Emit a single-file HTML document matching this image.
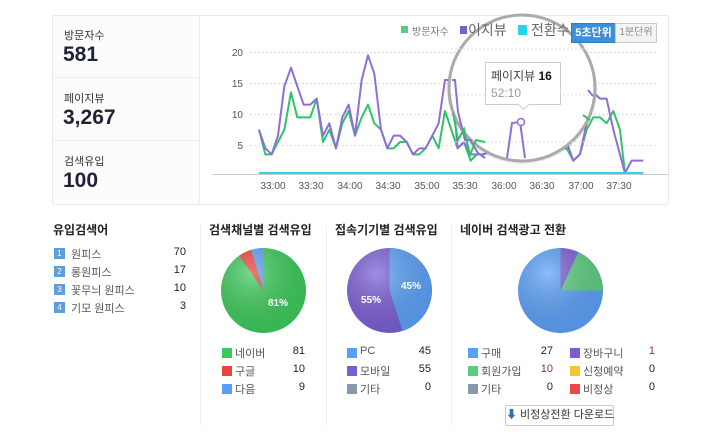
<!DOCTYPE html>
<html><head><meta charset="utf-8"><style>
body{margin:0;width:720px;height:440px;background:#fff;font-family:"Liberation Sans","Noto Sans CJK KR",sans-serif;position:relative;overflow:hidden}
.a{position:absolute;white-space:nowrap}
.lbl{font-size:11px;color:#333}
.num{font-size:21px;font-weight:bold;color:#1e2338}
.t{font-size:12px;font-weight:bold;color:#222}
.li{font-size:11px;color:#555}
.v{font-size:11px;color:#222;text-align:right;width:30px}
.sq{position:absolute;width:10px;height:10px}
</style></head><body>
<div class="a" style="left:52px;top:15px;width:615px;height:188px;border:1px solid #e8e8e8;border-radius:3px;background:#fff"></div>
<div class="a" style="left:53px;top:16px;width:146px;height:187px;background:#fcfcfc;border-right:1px solid #ececec"></div>
<div class="a" style="left:53px;top:77px;width:146px;height:1px;background:#eee"></div>
<div class="a" style="left:53px;top:140px;width:146px;height:1px;background:#eee"></div>
<div class="a lbl" style="left:64px;top:27px">방문자수</div>
<div class="a num" style="left:63px;top:43px">581</div>
<div class="a lbl" style="left:64px;top:90px">페이지뷰</div>
<div class="a num" style="left:63px;top:106px">3,267</div>
<div class="a lbl" style="left:64px;top:153px">검색유입</div>
<div class="a num" style="left:63px;top:169px">100</div>

<svg class="a" style="left:0;top:0" width="720" height="440">
<defs><radialGradient id="sh" cx="0.35" cy="0.3" r="0.75"><stop offset="0" stop-color="#fff" stop-opacity="0.3"/><stop offset="1" stop-color="#000" stop-opacity="0.08"/></radialGradient></defs>
<g stroke="#ddd" stroke-dasharray="2,2" stroke-width="1">
<line x1="250" y1="52.5" x2="657" y2="52.5"/><line x1="250" y1="83.5" x2="657" y2="83.5"/><line x1="250" y1="114.5" x2="657" y2="114.5"/><line x1="250" y1="145.5" x2="657" y2="145.5"/>
</g>
<line x1="212" y1="174.5" x2="668" y2="174.5" stroke="#ccc"/>
<g font-size="10" fill="#555" text-anchor="end" font-family="Liberation Sans,sans-serif">
<text x="243" y="56">20</text><text x="243" y="87">15</text><text x="243" y="118">10</text><text x="243" y="149">5</text>
</g>
<g font-size="10" fill="#555" text-anchor="middle" font-family="Liberation Sans,sans-serif">
<text x="273" y="189">33:00</text><text x="311" y="189">33:30</text><text x="350" y="189">34:00</text><text x="388" y="189">34:30</text><text x="427" y="189">35:00</text><text x="465" y="189">35:30</text><text x="504" y="189">36:00</text><text x="542" y="189">36:30</text><text x="581" y="189">37:00</text><text x="619" y="189">37:30</text>
</g>
<g transform="translate(200,15) scale(0.3333)" fill="none" stroke-width="6" stroke-linejoin="round">
<polyline stroke="#2fc46a" points="177,344 196,418 215,418 234,381 253,344 273,232 292,307 311,307 331,307 350,251 369,381 388,344 408,400 427,325 446,288 465,362 485,307 504,269 523,325 543,344 562,400 581,400 600,381 620,381 639,418 658,418 677,400 697,362 716,400 735,288 754,344 773,400 792,381 812,437 831,418 850,418 900,400 1000,400 1100,400 1120,437 1140,418 1160,344 1180,307 1200,307 1220,325 1240,288 1260,344 1275,474"/>
<polyline stroke="#8f6ed8" points="177,344 196,400 215,418 234,362 253,214 273,158 292,214 311,269 331,269 350,251 369,362 388,325 408,400 427,307 446,269 465,362 485,195 504,121 523,176 543,344 562,400 581,362 600,362 620,381 639,418 658,400 677,400 697,362 716,325 735,195 754,195 773,400 792,381 812,418 831,418 850,418 900,400 1000,400 1100,381 1120,437 1140,418 1160,325 1180,232 1200,251 1220,251 1240,344 1275,474 1295,437 1330,437"/>
<polyline stroke="#2dd3ea" points="177,474 1330,474"/>
</g>
<circle cx="522" cy="89" r="75" fill="#000" opacity="0.08"/>
<circle cx="522" cy="88" r="73" fill="#fff" stroke="#aaa" stroke-width="3"/>
<g stroke="#ddd" stroke-dasharray="2,2"><line x1="451" y1="49" x2="593" y2="49"/><line x1="451" y1="95" x2="593" y2="95"/><line x1="451" y1="142" x2="593" y2="142"/></g>
<g fill="none" stroke-width="2">
<polyline stroke="#8f6ed8" points="452,80 455,80 458,112 465,140 470,140 478,153 485,158"/>
<polyline stroke="#2fc46a" points="453,113 458,140 464,129 470,155 476,140 485,142"/>
<polyline stroke="#8f6ed8" points="507,158 512,123 520,122 525,158"/>
<polyline stroke="#8f6ed8" points="588,90 593,96"/>
<polyline stroke="#2fc46a" points="583,115 590,120"/>
</g>
<circle cx="521" cy="122" r="3.5" fill="#fff" stroke="#8f6ed8" stroke-width="1.5"/>
<path d="M485.5,62.5 h75 v42 h-32 l-5,5 l-5,-5 h-33z" fill="#fff" stroke="#ccc"/>
<text x="491" y="80" font-size="12" fill="#444" font-family="Liberation Sans,Noto Sans CJK KR,sans-serif">페이지뷰 <tspan font-weight="bold" fill="#111">16</tspan></text>
<text x="491" y="97" font-size="12" fill="#999" font-family="Liberation Sans,sans-serif">52:10</text>
<!-- pies -->
<circle cx="263.5" cy="290.5" r="42.5" fill="#3cc85a"/>
<path d="M263.5,290.5 L263.5,248 A42.5,42.5 0 0 0 251.1,249.9Z" fill="#5b9ff5"/>
<path d="M263.5,290.5 L251.1,249.9 A42.5,42.5 0 0 0 239.1,255.7Z" fill="#e8453c"/>
<circle cx="263.5" cy="290.5" r="42.5" fill="url(#sh)"/>
<circle cx="389.5" cy="290.5" r="42.5" fill="#7a5ed3"/>
<path d="M389.5,290.5 L389.5,248 A42.5,42.5 0 0 1 402.6,330.9Z" fill="#5b9ff5"/>
<circle cx="389.5" cy="290.5" r="42.5" fill="url(#sh)"/>
<circle cx="560.5" cy="290.5" r="42.5" fill="#5b9ff5"/>
<path d="M560.5,290.5 L560.5,248 A42.5,42.5 0 0 1 578.3,252.4Z" fill="#7a5ed3"/>
<path d="M560.5,290.5 L578.3,252.4 A42.5,42.5 0 0 1 603,290.5Z" fill="#5ccc80"/>
<circle cx="560.5" cy="290.5" r="42.5" fill="url(#sh)"/>
<g font-size="10" font-weight="bold" fill="#fff" font-family="Liberation Sans,sans-serif">
<text x="268" y="306">81%</text><text x="401" y="289">45%</text><text x="361" y="303">55%</text></g>
<g stroke="#eee"><line x1="200.5" y1="225" x2="200.5" y2="425"/><line x1="326.5" y1="225" x2="326.5" y2="425"/><line x1="451.5" y1="225" x2="451.5" y2="425"/></g>
</svg>

<div class="sq" style="left:401px;top:26px;width:7px;height:7px;background:#5ccc80"></div>
<div class="a" style="left:412px;top:23px;font-size:10px;color:#777">방문자수</div>
<div class="sq" style="left:460px;top:26px;width:7px;height:8px;background:#7a5ed3"></div>
<div class="a" style="left:468px;top:20px;font-size:14px;color:#666">이지뷰</div>
<div class="sq" style="left:518px;top:25px;width:9px;height:10px;background:#2dd3ea"></div>
<div class="a" style="left:531px;top:20px;font-size:14px;color:#666">전환수</div>
<div class="a" style="left:571px;top:23px;width:43px;height:18px;background:#3d8fd8;border:1px solid #2f7cc3;color:#fff;font-size:11px;font-weight:bold;text-align:center;line-height:18px">5초단위</div>
<div class="a" style="left:615px;top:23px;width:40px;height:18px;background:#f4f4f4;border:1px solid #ccc;color:#888;font-size:10px;text-align:center;line-height:18px">1분단위</div>

<div class="a t" style="left:53px;top:221px">유입검색어</div>
<div class="sq" style="left:54px;top:248px;width:11px;height:11px;background:#5b9fdc;color:#fff;font-size:8px;text-align:center;line-height:11px">1</div>
<div class="sq" style="left:54px;top:266px;width:11px;height:11px;background:#5b9fdc;color:#fff;font-size:8px;text-align:center;line-height:11px">2</div>
<div class="sq" style="left:54px;top:284px;width:11px;height:11px;background:#5b9fdc;color:#fff;font-size:8px;text-align:center;line-height:11px">3</div>
<div class="sq" style="left:54px;top:302px;width:11px;height:11px;background:#5b9fdc;color:#fff;font-size:8px;text-align:center;line-height:11px">4</div>
<div class="a li" style="left:71px;top:246px">원피스</div><div class="a v" style="left:156px;top:246px">70</div>
<div class="a li" style="left:71px;top:264px">롱원피스</div><div class="a v" style="left:156px;top:264px">17</div>
<div class="a li" style="left:71px;top:282px">꽃무늬 원피스</div><div class="a v" style="left:156px;top:282px">10</div>
<div class="a li" style="left:71px;top:300px">기모 원피스</div><div class="a v" style="left:156px;top:300px">3</div>

<div class="a t" style="left:209px;top:221px">검색채널별 검색유입</div>
<div class="sq" style="left:222px;top:348px;background:#3cc85a"></div><div class="a li" style="left:235px;top:345px">네이버</div><div class="a v" style="left:275px;top:345px">81</div>
<div class="sq" style="left:222px;top:366px;background:#e8453c"></div><div class="a li" style="left:235px;top:363px">구글</div><div class="a v" style="left:275px;top:363px">10</div>
<div class="sq" style="left:222px;top:384px;background:#5b9ff5"></div><div class="a li" style="left:235px;top:381px">다음</div><div class="a v" style="left:275px;top:381px">9</div>

<div class="a t" style="left:335px;top:221px">접속기기별 검색유입</div>
<div class="sq" style="left:347px;top:348px;background:#5b9ff5"></div><div class="a li" style="left:360px;top:345px">PC</div><div class="a v" style="left:401px;top:345px">45</div>
<div class="sq" style="left:347px;top:366px;background:#7a5ed3"></div><div class="a li" style="left:360px;top:363px">모바일</div><div class="a v" style="left:401px;top:363px">55</div>
<div class="sq" style="left:347px;top:384px;background:#8a98ad"></div><div class="a li" style="left:360px;top:381px">기타</div><div class="a v" style="left:401px;top:381px">0</div>

<div class="a t" style="left:460px;top:221px">네이버 검색광고 전환</div>
<div class="sq" style="left:468px;top:348px;background:#5b9ff5"></div><div class="a li" style="left:481px;top:345px">구매</div><div class="a v" style="left:523px;top:345px">27</div>
<div class="sq" style="left:468px;top:366px;background:#5ccc80"></div><div class="a li" style="left:481px;top:363px">회원가입</div><div class="a v" style="left:523px;top:363px;color:#7a2f5a">10</div>
<div class="sq" style="left:468px;top:384px;background:#8a98ad"></div><div class="a li" style="left:481px;top:381px">기타</div><div class="a v" style="left:523px;top:381px">0</div>
<div class="sq" style="left:570px;top:348px;background:#7a5ed3"></div><div class="a li" style="left:583px;top:345px">장바구니</div><div class="a v" style="left:625px;top:345px;color:#7a2f5a">1</div>
<div class="sq" style="left:570px;top:366px;background:#f6c533"></div><div class="a li" style="left:583px;top:363px">신청예약</div><div class="a v" style="left:625px;top:363px">0</div>
<div class="sq" style="left:570px;top:384px;background:#f0454a"></div><div class="a li" style="left:583px;top:381px">비정상</div><div class="a v" style="left:625px;top:381px">0</div>
<div class="a" style="left:505px;top:405px;width:107px;height:19px;border:1px solid #ccc;border-radius:2px;background:#fff;font-size:11px;color:#333;line-height:19px;text-align:center"><span style="color:#2f6fc0">⬇</span> 비정상전환 다운로드</div>
</body></html>
